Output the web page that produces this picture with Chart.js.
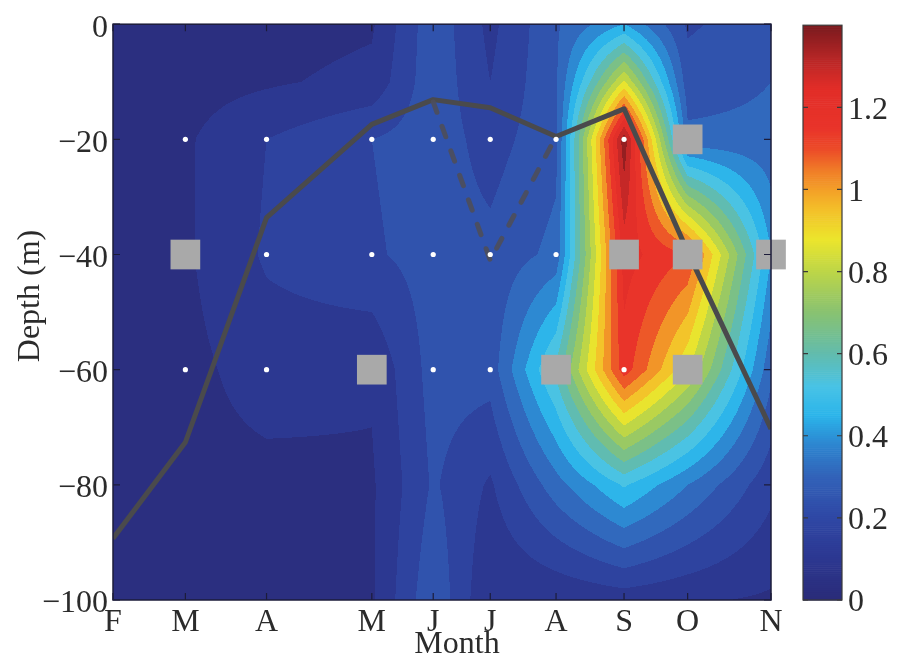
<!DOCTYPE html>
<html>
<head>
<meta charset="utf-8">
<title>Depth–month section</title>
<script src="https://cdn.jsdelivr.net/npm/chart.js@4.4.1/dist/chart.umd.min.js"></script>
<style>
  html, body { margin: 0; padding: 0; background: #ffffff; }
  #wrap { position: relative; width: 901px; height: 662px; }
  #wrap canvas { position: absolute; left: 0; top: 0; }
</style>
</head>
<body>
<div id="wrap">
  <canvas id="field" width="901" height="662"></canvas>
  <canvas id="bar" width="901" height="662"></canvas>
</div>
<script>
// Sampling dates (days after the first February cruise) and their month letters
const monthLabels = ['F', 'M', 'A', 'M', 'J', 'J', 'A', 'S', 'O', 'N'];
const sampleDay   = [0, 33, 70, 118, 146, 172, 202, 233, 262, 300];

// Depth levels of the gridded field (m)
const depthLevels = [0, -10, -20, -40, -60, -80, -100];

// Gridded concentration, one row per depth level, one value per sampling date
const conc0m   = [0.05, 0.04, 0.04, 0.06, 0.26, 0.12, 0.27, 0.42, 0.20, 0.25];
const conc10m  = [0.05, 0.04, 0.06, 0.09, 0.26, 0.14, 0.27, 0.85, 0.24, 0.28];
const conc20m  = [0.05, 0.06, 0.14, 0.21, 0.25, 0.18, 0.26, 1.38, 0.30, 0.30];
const conc40m  = [0.05, 0.06, 0.15, 0.20, 0.24, 0.23, 0.30, 1.22, 1.12, 0.42];
const conc60m  = [0.05, 0.05, 0.10, 0.08, 0.24, 0.24, 0.58, 1.16, 0.85, 0.30];
const conc80m  = [0.05, 0.05, 0.05, 0.06, 0.22, 0.13, 0.32, 0.50, 0.35, 0.16];
const conc100m = [0.05, 0.05, 0.05, 0.06, 0.27, 0.07, 0.08, 0.10, 0.08, 0.06];
const concRows = [conc0m, conc10m, conc20m, conc40m, conc60m, conc80m, conc100m];

// Mixed layer depth (m) on each sampling date
const mixedLayerDepth = [-89.3, -72.6, -33.6, -17.4, -13.1, -14.5, -19.5, -14.7, -39.5, -70.3];

// Alternative (dashed) mixed layer in early summer
const altMldIndex = [4, 5, 6];
const altMldDepth = [-13.5, -41, -19.5];

// Samples shown as grey squares
const squareIndex = [1, 3, 6, 7, 8, 8, 8, 9];
const squareDepth = [-40, -60, -60, -40, -20, -40, -60, -40];

// Samples shown as white dots
const dotIndex = [1, 1, 2, 2, 2, 3, 3, 4, 4, 4, 5, 5, 5, 6, 6, 7, 7];
const dotDepth = [-20, -60, -20, -40, -60, -20, -40, -20, -40, -60, -20, -40, -60, -20, -40, -20, -60];

// Colour scale
const colorMax = 1.4;
const levelStep = 0.07;
const colorbarTicks = [0, 0.2, 0.4, 0.6, 0.8, 1.0, 1.2];

const cmapStops = [
  [0.00, [42, 43, 120]],
  [0.10, [44, 55, 144]],
  [0.20, [47, 71, 164]],
  [0.30, [50, 98, 184]],
  [0.38, [45, 134, 208]],
  [0.45, [43, 180, 234]],
  [0.52, [72, 195, 230]],
  [0.60, [98, 188, 174]],
  [0.70, [136, 194, 114]],
  [0.80, [188, 213, 72]],
  [0.88, [236, 229, 44]],
  [0.95, [243, 193, 42]],
  [1.00, [243, 160, 40]],
  [1.05, [240, 122, 40]],
  [1.10, [236, 74, 40]],
  [1.15, [233, 52, 42]],
  [1.25, [225, 45, 40]],
  [1.32, [182, 38, 38]],
  [1.40, [122, 26, 30]]
];

function cmap(v) {
  if (v <= cmapStops[0][0]) return cmapStops[0][1];
  for (let k = 1; k < cmapStops.length; k++) {
    const [v1, c1] = cmapStops[k];
    if (v <= v1) {
      const [v0, c0] = cmapStops[k - 1];
      const t = (v - v0) / (v1 - v0);
      return c0.map((c, n) => Math.round(c + (c1[n] - c) * t));
    }
  }
  return cmapStops[cmapStops.length - 1][1];
}
const rgb = c => `rgb(${c[0]},${c[1]},${c[2]})`;

const nBands = Math.round(colorMax / levelStep);
const bandColor = [];
for (let b = 0; b < nBands; b++) bandColor.push(rgb(cmap((b + 0.5) * levelStep)));

function findSegment(arr, v, descending) {
  for (let k = 0; k < arr.length - 1; k++) {
    const a = arr[k], b = arr[k + 1];
    if (descending ? (v <= a && v >= b) : (v >= a && v <= b)) return k;
  }
  return descending ? (v > arr[0] ? 0 : arr.length - 2) : (v < arr[0] ? 0 : arr.length - 2);
}

function fieldValue(xv, yv) {
  const i = findSegment(sampleDay, xv, false);
  const j = findSegment(depthLevels, yv, true);
  const tx = Math.min(1, Math.max(0, (xv - sampleDay[i]) / (sampleDay[i + 1] - sampleDay[i])));
  const ty = Math.min(1, Math.max(0, (depthLevels[j] - yv) / (depthLevels[j] - depthLevels[j + 1])));
  const a = concRows[j][i], b = concRows[j][i + 1];
  const c = concRows[j + 1][i], d = concRows[j + 1][i + 1];
  return (a * (1 - tx) + b * tx) * (1 - ty) + (c * (1 - tx) + d * tx) * ty;
}

// Filled contour bands of the gridded field, painted column by column
const contourFill = {
  id: 'contourFill',
  beforeDatasetsDraw(chart) {
    const { ctx, chartArea: a, scales: { x, y } } = chart;
    ctx.save();
    ctx.beginPath();
    ctx.rect(a.left, a.top, a.right - a.left, a.bottom - a.top);
    ctx.clip();
    const x0 = Math.floor(a.left), x1 = Math.ceil(a.right);
    const y0 = Math.floor(a.top), y1 = Math.ceil(a.bottom);
    for (let px = x0; px < x1; px++) {
      const xv = x.getValueForPixel(px + 0.5);
      let runStart = y0, runBand = null;
      for (let py = y0; py <= y1; py++) {
        let band = -1;
        if (py < y1) {
          const v = fieldValue(xv, y.getValueForPixel(py + 0.5));
          band = Math.min(nBands - 1, Math.max(0, Math.floor(v / levelStep)));
        }
        if (band !== runBand) {
          if (runBand !== null && runBand >= 0) {
            ctx.fillStyle = bandColor[runBand];
            ctx.fillRect(px, runStart, 1, py - runStart);
          }
          runStart = py;
          runBand = band;
        }
      }
    }
    ctx.restore();
  }
};

// Frame, inward tick marks and axis titles
const frameAndTitles = {
  id: 'frameAndTitles',
  afterDraw(chart) {
    const { ctx, chartArea: a, scales: { x, y } } = chart;
    ctx.save();
    ctx.strokeStyle = '#1c1c3a';
    ctx.lineWidth = 1.2;
    ctx.beginPath();
    x.ticks.forEach((t, i) => {
      const p = x.getPixelForTick(i);
      ctx.moveTo(p, a.bottom); ctx.lineTo(p, a.bottom - 7);
      ctx.moveTo(p, a.top); ctx.lineTo(p, a.top + 7);
    });
    y.ticks.forEach((t, i) => {
      const p = y.getPixelForTick(i);
      ctx.moveTo(a.left, p); ctx.lineTo(a.left + 7, p);
      ctx.moveTo(a.right, p); ctx.lineTo(a.right - 7, p);
    });
    ctx.stroke();
    ctx.lineWidth = 1.5;
    ctx.strokeRect(a.left, a.top, a.right - a.left, a.bottom - a.top);

    ctx.fillStyle = '#2b2b2b';
    ctx.font = '32px "Liberation Serif", "Times New Roman", serif';
    ctx.textAlign = 'center';
    ctx.textBaseline = 'middle';
    ctx.fillText('Month', (a.left + a.right) / 2 + 15, 645);
    ctx.translate(31, 296);
    ctx.rotate(-Math.PI / 2);
    ctx.fillText('Depth (m)', 0, 0);
    ctx.restore();
  }
};

const serif = { family: '"Liberation Serif", "Times New Roman", serif', size: 32 };
const minus = v => (v < 0 ? '\u2212' + Math.abs(v) : String(v));

new Chart(document.getElementById('field'), {
  type: 'scatter',
  data: {
    datasets: [
      {
        type: 'scatter',
        data: dotIndex.map((k, n) => ({ x: sampleDay[k], y: dotDepth[n] })),
        pointRadius: 2.6,
        pointBackgroundColor: '#ffffff',
        pointBorderWidth: 0,
        order: 0
      },
      {
        type: 'scatter',
        data: squareIndex.map((k, n) => ({ x: sampleDay[k], y: squareDepth[n] })),
        pointStyle: 'rect',
        pointRadius: 21,
        pointBackgroundColor: '#a9a9a9',
        pointBorderWidth: 0,
        clip: false,
        order: 1
      },
      {
        type: 'line',
        data: altMldIndex.map((k, n) => ({ x: sampleDay[k], y: altMldDepth[n] })),
        borderColor: 'rgba(78,78,90,0.9)',
        borderWidth: 5,
        borderDash: [11, 15],
        borderCapStyle: 'round',
        pointRadius: 0,
        tension: 0,
        order: 2
      },
      {
        type: 'line',
        data: sampleDay.map((d, k) => ({ x: d, y: mixedLayerDepth[k] })),
        borderColor: '#4a4a4c',
        borderWidth: 5,
        borderJoinStyle: 'round',
        pointRadius: 0,
        tension: 0,
        order: 3
      }
    ]
  },
  options: {
    responsive: false,
    animation: false,
    devicePixelRatio: 1,
    layout: { padding: { top: 10, right: 130, left: 0, bottom: 0 } },
    plugins: { legend: { display: false }, tooltip: { enabled: false } },
    events: [],
    scales: {
      x: {
        type: 'linear',
        min: sampleDay[0],
        max: sampleDay[sampleDay.length - 1],
        afterBuildTicks: s => { s.ticks = sampleDay.map(v => ({ value: v })); },
        afterFit: s => { s.height = 62; },
        grid: { display: false, drawTicks: false },
        border: { display: false },
        ticks: {
          autoSkip: false, maxRotation: 0, minRotation: 0,
          font: serif, color: '#2b2b2b', padding: 3,
          callback: (v, i) => monthLabels[i]
        }
      },
      y: {
        type: 'linear',
        min: -100,
        max: 0,
        afterFit: s => { s.width = 113; },
        grid: { display: false, drawTicks: false },
        border: { display: false },
        ticks: {
          stepSize: 20, font: serif, color: '#2b2b2b', padding: 5, labelOffset: 4,
          callback: v => minus(v)
        }
      }
    }
  },
  plugins: [contourFill, frameAndTitles]
});

// Colour bar
const colorbarFill = {
  id: 'colorbarFill',
  beforeDatasetsDraw(chart) {
    const { ctx, chartArea: a, scales: { y } } = chart;
    ctx.save();
    const step = 0.005;
    for (let v = 0; v < colorMax - 1e-9; v += step) {
      const top = y.getPixelForValue(Math.min(colorMax, v + step));
      const bot = y.getPixelForValue(v);
      ctx.fillStyle = rgb(cmap(v + step / 2));
      ctx.fillRect(a.left, top, a.right - a.left, bot - top + 0.6);
    }
    ctx.strokeStyle = '#3a3a3a';
    ctx.lineWidth = 1.2;
    ctx.beginPath();
    colorbarTicks.forEach(t => {
      const p = y.getPixelForValue(t);
      ctx.moveTo(a.left, p); ctx.lineTo(a.left + 5, p);
      ctx.moveTo(a.right, p); ctx.lineTo(a.right - 5, p);
    });
    ctx.stroke();
    ctx.strokeRect(a.left, a.top, a.right - a.left, a.bottom - a.top);
    ctx.restore();
  }
};

new Chart(document.getElementById('bar'), {
  type: 'scatter',
  data: { datasets: [{ data: [] }] },
  options: {
    responsive: false,
    animation: false,
    devicePixelRatio: 1,
    layout: { padding: { top: 10, right: 0, left: 803, bottom: 62 } },
    plugins: { legend: { display: false }, tooltip: { enabled: false } },
    events: [],
    scales: {
      x: { display: false, min: 0, max: 1 },
      y: {
        type: 'linear',
        position: 'right',
        min: 0,
        max: colorMax,
        afterBuildTicks: s => { s.ticks = colorbarTicks.map(v => ({ value: v })); },
        afterFit: s => { s.width = 59; },
        grid: { display: false, drawTicks: false },
        border: { display: false },
        ticks: {
          font: serif, color: '#2b2b2b', padding: 6, labelOffset: 3,
          callback: v => String(+v.toFixed(1))
        }
      }
    }
  },
  plugins: [colorbarFill]
});
</script>
</body>
</html>
